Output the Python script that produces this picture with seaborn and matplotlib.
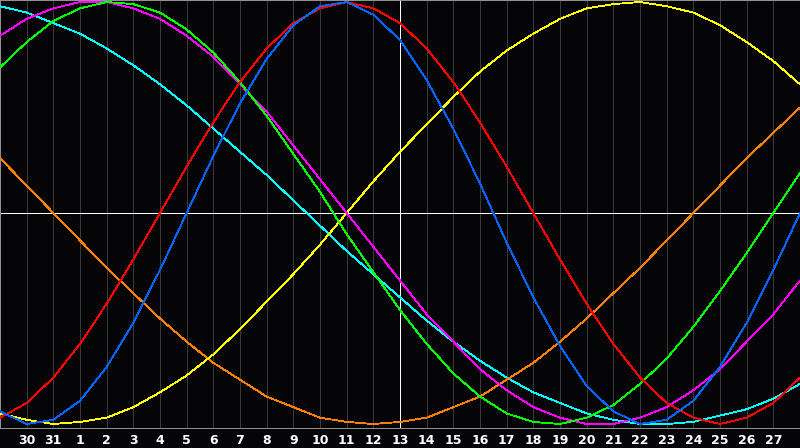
import matplotlib
matplotlib.use('Agg')
import matplotlib.pyplot as plt
import seaborn as sns
import pandas as pd
import numpy as np

# giorni mostrati sull'asse (posizione 0 = giorno 29 del mese precedente)
days = list(range(0, 31))
day_labels = ['30', '31'] + [str(d) for d in range(1, 28)]   # etichette alle posizioni 1..29
today = 15   # posizione del giorno "13" (croce bianca)

# valori, uno per giorno
blue = [-0.94, -1.00, -0.98, -0.89, -0.73, -0.52, -0.27, 0.00, 0.27, 0.52, 0.73,
        0.89, 0.98, 1.00, 0.94, 0.82, 0.63, 0.40, 0.14, -0.14, -0.40,
        -0.63, -0.82, -0.94, -1.00, -0.98, -0.89, -0.73, -0.52, -0.27, 0.00]
red = [-0.97, -0.90, -0.78, -0.62, -0.43, -0.22, 0.00, 0.22, 0.43, 0.62, 0.78,
       0.90, 0.97, 1.00, 0.97, 0.90, 0.78, 0.62, 0.43, 0.22, 0.00,
       -0.22, -0.43, -0.62, -0.78, -0.90, -0.97, -1.00, -0.97, -0.90, -0.78]
green = [0.69, 0.81, 0.91, 0.97, 1.00, 0.99, 0.95, 0.87, 0.76, 0.62, 0.46,
         0.28, 0.10, -0.10, -0.28, -0.46, -0.62, -0.76, -0.87, -0.95, -0.99,
         -1.00, -0.97, -0.91, -0.81, -0.69, -0.54, -0.37, -0.19, 0.00, 0.19]
magenta = [0.84, 0.92, 0.97, 1.00, 1.00, 0.97, 0.92, 0.84, 0.74, 0.61, 0.48,
           0.32, 0.16, 0.00, -0.16, -0.32, -0.48, -0.61, -0.74, -0.84, -0.92,
           -0.97, -1.00, -1.00, -0.97, -0.92, -0.84, -0.74, -0.61, -0.48, -0.32]
yellow = [-0.95, -0.98, -1.00, -0.99, -0.97, -0.92, -0.85, -0.77, -0.67, -0.55, -0.42,
          -0.29, -0.15, 0.00, 0.15, 0.29, 0.42, 0.55, 0.67, 0.77, 0.85,
          0.92, 0.97, 0.99, 1.00, 0.98, 0.95, 0.89, 0.81, 0.72, 0.61]
orange = [0.26, 0.13, 0.00, -0.13, -0.26, -0.38, -0.50, -0.61, -0.71, -0.79, -0.87,
          -0.92, -0.97, -0.99, -1.00, -0.99, -0.97, -0.92, -0.87, -0.79, -0.71,
          -0.61, -0.50, -0.38, -0.26, -0.13, 0.00, 0.13, 0.26, 0.38, 0.50]
cyan = [0.98, 0.95, 0.90, 0.85, 0.78, 0.70, 0.61, 0.51, 0.40, 0.29, 0.18,
        0.06, -0.06, -0.18, -0.29, -0.40, -0.51, -0.61, -0.70, -0.78, -0.85,
        -0.90, -0.95, -0.98, -1.00, -1.00, -0.99, -0.96, -0.93, -0.88, -0.81]

series = {'cyan': cyan, 'orange': orange, 'yellow': yellow, 'magenta': magenta,
          'green': green, 'red': red, 'blue': blue}
colori = {'cyan': '#00ffff', 'orange': '#ff8000', 'yellow': '#ffff00', 'magenta': '#ff00ff',
          'green': '#00ff00', 'red': '#ff0000', 'blue': '#0066ff'}

df = pd.concat([pd.DataFrame({'day': days, 'value': v, 'cycle': k}) for k, v in series.items()])

sfondo = '#050508'
sns.set_theme(style='dark', rc={'axes.facecolor': sfondo, 'figure.facecolor': sfondo})
plt.rcParams['font.family'] = ['DejaVu Sans']

px = 0.72  # 1 pixel a 100 dpi
fig = plt.figure(figsize=(8, 4.48), dpi=100)
ax = fig.add_axes([0, 20/448, 1, 428/448])

sns.lineplot(data=df, x='day', y='value', hue='cycle', palette=colori, estimator=None,
             sort=False, legend=False, ax=ax)
# linee sottili e senza antialias come nell'originale
for ln in ax.lines:
    ln.set_linewidth(0.6)
    ln.set_antialiased(False)
    ln.set_zorder(3)

for k in range(1, 30):
    ax.axvline(k, color='#3a3a3a', linewidth=px, zorder=1, antialiased=False)
ax.axvline(today, color='white', linewidth=px, zorder=2, antialiased=False)
ax.axhline(0, color='white', linewidth=px, zorder=2, antialiased=False)

ax.set_xlim(0, 30)
ax.set_ylim(-1.0189, 1.0095)
ax.set_xticks(np.arange(1, 30))
ax.set_xticklabels(day_labels, color='white', fontsize=9, fontweight='bold')
ax.tick_params(axis='x', length=0, pad=4)
ax.set_yticks([])
ax.set_xlabel('')
ax.set_ylabel('')
ax.grid(False)
for s in ax.spines.values():
    s.set_color('#909090')
    s.set_linewidth(px)

plt.savefig('out.png', dpi=100, facecolor=sfondo)
